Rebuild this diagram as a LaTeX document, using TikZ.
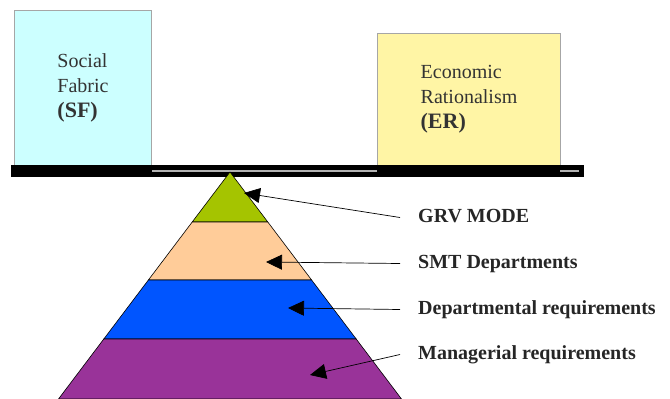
\documentclass[tikz,border=0pt]{standalone}
\usepackage{fontspec}
\setmainfont{Liberation Serif}
\usetikzlibrary{arrows.meta}

\definecolor{sfcyan}{HTML}{CCFFFF}
\definecolor{eryellow}{HTML}{FFF5A5}
\definecolor{grvgreen}{HTML}{A5C400}
\definecolor{smtpeach}{HTML}{FFCC99}
\definecolor{depblue}{HTML}{0055FF}
\definecolor{mgrpurple}{HTML}{993399}

\begin{document}
\begin{tikzpicture}[x=1pt, y=-1pt,
        weight/.style={draw=gray!70, line width=1pt, inner sep=0pt, anchor=north west,
            align=left, text=black!80, font=\fontsize{20}{25}\selectfont},
        layer/.style={draw=black, line width=0.6pt},
        lbl/.style={anchor=base west, inner sep=0pt, text height=13pt, text depth=4pt,
            font=\fontsize{20}{24}\selectfont\bfseries, text=black!85},
        pointer/.style={-{Triangle[length=16pt,width=15pt]}, line width=0.7pt}]
        \useasboundingbox (0,0) rectangle (670,399);

        % weights on the beam
        \node[weight, fill=sfcyan, minimum width=137pt, minimum height=155pt] (sf) at (14,10)
            {Social\\Fabric\\{\fontsize{22}{25}\selectfont\bfseries (SF)}};
        \node[weight, fill=eryellow, minimum width=183pt, minimum height=132pt] (er) at (377,33)
            {Economic\\Rationalism\\{\fontsize{22}{25}\selectfont\bfseries (ER)}};

        \fill[black] (11,165) rectangle (584,177);
        \draw[gray!60, line width=1.5pt] (152,171) -- (377,171);
        \draw[gray!60, line width=1.5pt] (560,171) -- (579,171);

        % pyramid
        \filldraw[layer, fill=grvgreen] (230,172) -- (267.8,222) -- (192.2,222) -- cycle;
        \filldraw[layer, fill=smtpeach] (192.2,222) -- (267.8,222) -- (311.6,280) -- (148.4,280) -- cycle;
        \filldraw[layer, fill=depblue] (148.4,280) -- (311.6,280) -- (356.2,339) -- (103.8,339) -- cycle;
        \filldraw[layer, fill=mgrpurple] (103.8,339) -- (356.2,339) -- (401.5,399) -- (58.5,399) -- cycle;

        \coordinate (grvtip) at (244,193);
        \coordinate (smttip) at (266,262);
        \coordinate (deptip) at (288,308);
        \coordinate (mgrtip) at (310,375);

        \node[lbl] (grv) at (418,222) {GRV MODE};
        \node[lbl] (smt) at (418,268) {SMT Departments};
        \node[lbl] (dep) at (418,314) {Departmental requirements};
        \node[lbl] (mgr) at (418,359) {Managerial requirements};

        \draw[pointer] ([xshift=-18pt]grv.west) -- (grvtip);
        \draw[pointer] ([xshift=-18pt]smt.west) -- (smttip);
        \draw[pointer] ([xshift=-18pt]dep.west) -- (deptip);
        \draw[pointer] ([xshift=-18pt]mgr.west) -- (mgrtip);
    \end{tikzpicture}
\end{document}
